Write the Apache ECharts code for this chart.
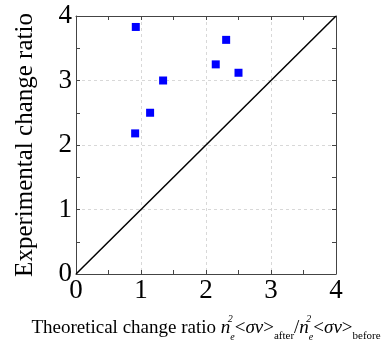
<!DOCTYPE html>
<html><head><meta charset="utf-8">
<script src="https://cdn.jsdelivr.net/npm/echarts@6/dist/echarts.min.js"></script>
<style>html,body{margin:0;padding:0;background:#fff}#c{width:385px;height:347px}</style>
</head><body><div id="c"></div>
<script>
var theoretical = [0.92, 2.31, 2.15, 2.50, 1.34, 1.14, 0.91];
var experimental = [3.83, 3.63, 3.25, 3.12, 3.00, 2.50, 2.18];
var diagonalX = [0, 4];
var diagonalY = [0, 4];
var tickValues = [0, 1, 2, 3, 4];

var serif = '"Liberation Serif","Times New Roman",serif';
var chart = echarts.init(document.getElementById('c'));
var lineCol = '#444';
function labelFmt(v) { return tickValues.indexOf(v) >= 0 ? String(v) : ''; }
function frameAxis(pos, main) {
  return {
    type: 'value', min: 0, max: 4, interval: 0.5, position: pos,
    axisLine: {show: true, onZero: false, lineStyle: {color: lineCol, width: 1}},
    axisTick: {show: true, inside: true, length: 4, lineStyle: {color: lineCol, width: 1}},
    splitLine: main ? {show: true, lineStyle: {color: ['#d8d8d8', 'rgba(0,0,0,0)'], type: [3, 3], width: 1}} : {show: false},
    axisLabel: main ? {show: true, fontFamily: serif, fontSize: 27, color: '#000',
      margin: pos === 'bottom' ? 3 : 4, formatter: labelFmt, hideOverlap: false} : {show: false}
  };
}
var xMain = frameAxis('bottom', true);
xMain.name = 'Theoretical change ratio {i|n}{sup|2}{sub|e}{n|<}{i|σv}{n|>}{s2|after}{n|/}{i|n}{sup|2}{sub|e}{n|<}{i|σv}{n|>}{s2|before}';
xMain.nameLocation = 'middle';
xMain.nameGap = 40;
xMain.nameTextStyle = {
  fontFamily: serif, fontSize: 19, color: '#000', lineHeight: 28, align: 'center',
  rich: {
    i: {fontFamily: serif, fontSize: 19, fontStyle: 'italic', color: '#000'},
    n: {fontFamily: serif, fontSize: 19, color: '#000'},
    sup: {fontFamily: serif, fontSize: 10, fontStyle: 'italic', color: '#000', width: 0, verticalAlign: 'top', lineHeight: 28},
    sub: {fontFamily: serif, fontSize: 10, fontStyle: 'italic', color: '#000', verticalAlign: 'bottom', lineHeight: 28},
    s2: {fontFamily: serif, fontSize: 11, color: '#000', verticalAlign: 'bottom', lineHeight: 26}
  }
};
var yMain = frameAxis('left', true);
yMain.name = 'Experimental change ratio';
yMain.nameLocation = 'middle';
yMain.nameGap = 38;
yMain.nameTextStyle = {fontFamily: serif, fontSize: 25, color: '#000'};

chart.setOption({
  animation: false,
  grid: {left: 76, right: 49, top: 16, bottom: 71},
  xAxis: [xMain, frameAxis('top', false)],
  yAxis: [yMain, frameAxis('right', false)],
  series: [
    {
      type: 'line', xAxisIndex: 0, yAxisIndex: 0, symbol: 'none',
      data: diagonalX.map(function (x, i) { return [x, diagonalY[i]]; }),
      lineStyle: {color: '#000', width: 1.5}, silent: true
    },
    {
      type: 'scatter', xAxisIndex: 0, yAxisIndex: 0, symbol: 'rect', symbolSize: 8,
      itemStyle: {color: '#0000ff', opacity: 1},
      data: theoretical.map(function (x, i) { return [x, experimental[i]]; })
    }
  ]
});
</script></body></html>
